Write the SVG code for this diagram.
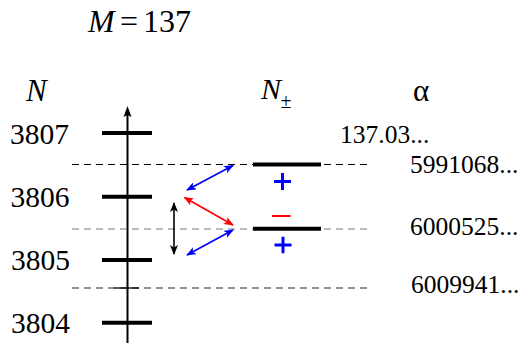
<svg xmlns="http://www.w3.org/2000/svg" width="522" height="343" viewBox="0 0 522 343">
<defs>
<marker id="hb" viewBox="0 0 10 8" refX="9" refY="4" markerWidth="10" markerHeight="8" markerUnits="userSpaceOnUse" orient="auto-start-reverse"><path d="M0,0 L10,4 L0,8 L2.5,4 Z" fill="#0000ff"/></marker>
<marker id="hr" viewBox="0 0 10 8" refX="9" refY="4" markerWidth="10" markerHeight="8" markerUnits="userSpaceOnUse" orient="auto-start-reverse"><path d="M0,0 L10,4 L0,8 L2.5,4 Z" fill="#ff0000"/></marker>
<marker id="hk" viewBox="0 0 10 8" refX="9" refY="4" markerWidth="10" markerHeight="8" markerUnits="userSpaceOnUse" orient="auto-start-reverse"><path d="M0,0 L10,4 L0,8 L2.5,4 Z" fill="#000"/></marker>
</defs>

<g id="title"><text x="88" y="32.3" font-size="32" font-family="Liberation Serif"><tspan font-style="italic">M</tspan><tspan x="120">=</tspan><tspan x="143">137</tspan></text></g>

<g id="headers">
<text x="26" y="100.5" font-size="31" font-style="italic" font-family="Liberation Serif">N</text>
<text x="261" y="98.5" font-size="30" font-style="italic" font-family="Liberation Serif">N</text>
<text x="280.5" y="108" font-size="20" font-family="Liberation Serif">±</text>
<text x="413" y="100.7" font-size="31" font-family="Liberation Serif">α</text>
</g>

<g id="axis">
<line x1="127.5" y1="343" x2="127.5" y2="114" stroke="#000" stroke-width="2"/>
<path d="M127.5,106 L131.5,117 L127.5,115 L123.5,117 Z" fill="#000"/>
</g>

<g id="dashes" stroke-width="1.2" stroke-dasharray="7 5" fill="none">
<line x1="72" y1="164.5" x2="372" y2="164.5" stroke="#000"/>
<line x1="72" y1="229" x2="372" y2="229" stroke="#777"/>
<line x1="72" y1="288" x2="372" y2="288" stroke="#222"/>
</g>
<line id="half-tick" x1="114" y1="288" x2="139" y2="288" stroke="#000" stroke-width="1.3"/>

<g id="n3807"><line x1="102" y1="133" x2="152" y2="133" stroke="#000" stroke-width="4"/><text x="10" y="144" font-size="29.5" font-family="Liberation Serif">3807</text></g>
<g id="n3806"><line x1="102" y1="196.7" x2="152" y2="196.7" stroke="#000" stroke-width="4"/><text x="10.5" y="207" font-size="29.5" font-family="Liberation Serif">3806</text></g>
<g id="n3805"><line x1="102" y1="260" x2="152" y2="260" stroke="#000" stroke-width="4"/><text x="11" y="270" font-size="29.5" font-family="Liberation Serif">3805</text></g>
<g id="n3804"><line x1="102" y1="322.7" x2="152" y2="322.7" stroke="#000" stroke-width="4"/><text x="11" y="332.5" font-size="29.5" font-family="Liberation Serif">3804</text></g>

<g id="level-upper">
<line x1="253" y1="164.5" x2="321" y2="164.5" stroke="#000" stroke-width="4"/>
<path d="M274,181.5 H291 M282.5,173 V190" stroke="#0000ff" stroke-width="3" fill="none"/>
</g>
<g id="level-lower">
<line x1="253" y1="228.8" x2="321" y2="228.8" stroke="#000" stroke-width="4"/>
<line x1="272" y1="216" x2="290.5" y2="216" stroke="#ff0000" stroke-width="2"/>
<path d="M274.5,245 H291.5 M283,236.7 V253.3" stroke="#0000ff" stroke-width="3" fill="none"/>
</g>

<g id="alpha-values">
<text x="340" y="142.7" font-size="25.5" font-family="Liberation Serif">137.03...</text>
<text x="410" y="173.3" font-size="25.5" font-family="Liberation Serif">5991068...</text>
<text x="410" y="235" font-size="25.5" font-family="Liberation Serif">6000525...</text>
<text x="411" y="293.3" font-size="25.5" font-family="Liberation Serif">6009941...</text>
</g>

<g id="connectors" fill="none" stroke-width="1.6">
<line x1="187" y1="190" x2="233" y2="165.5" stroke="#0000ff" marker-start="url(#hb)" marker-end="url(#hb)"/>
<line x1="184.5" y1="197.5" x2="233" y2="225" stroke="#ff0000" marker-start="url(#hr)" marker-end="url(#hr)"/>
<line x1="187" y1="255" x2="233" y2="230" stroke="#0000ff" marker-start="url(#hb)" marker-end="url(#hb)"/>
<line x1="174" y1="203" x2="174" y2="254" stroke="#000" marker-start="url(#hk)" marker-end="url(#hk)"/>
</g>
</svg>
